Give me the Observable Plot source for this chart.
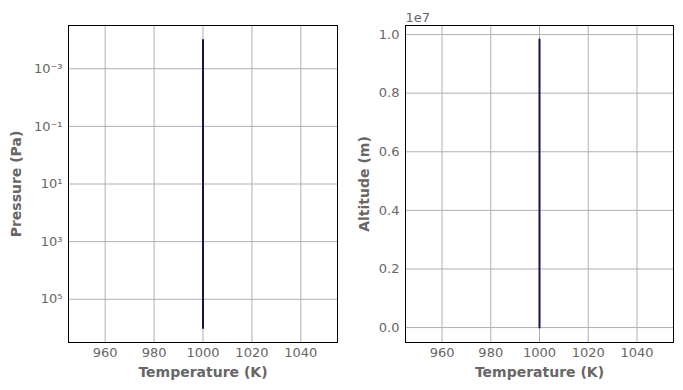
<!DOCTYPE html>
<html><head><meta charset="utf-8">
<script src="https://cdn.jsdelivr.net/npm/d3@7"></script>
<script src="https://cdn.jsdelivr.net/npm/@observablehq/plot@0.6"></script>
<style>
body{margin:0;background:#fff;}
#wrap{display:flex;width:683px;height:390px;font-family:"DejaVu Sans",sans-serif;}
svg{font-family:"DejaVu Sans",sans-serif;}
</style></head>
<body><div id="wrap"></div>
<script>
const temperature = [1000, 1000];
const pressure = [1e-4, 1e6];
const altitude = [9.83e6, 0];
const tempTicks = [960, 980, 1000, 1020, 1040];
const pressureTicks = [1e-3, 1e-1, 1e1, 1e3, 1e5];
const altitudeTicks = [0, 2e6, 4e6, 6e6, 8e6, 10e6];

const sup = {"-":"⁻","0":"⁰","1":"¹","2":"²","3":"³","4":"⁴","5":"⁵","6":"⁶","7":"⁷","8":"⁸","9":"⁹"};
const fmtPow = v => "10" + String(Math.round(Math.log10(v))).split("").map(c => sup[c]).join("");

const grid = "#b0b0b0", tickCol = "#666", lineCol = "#1c1044";
const TS = 13, LS = 14;
const profileP = temperature.map((t,i) => ({t, p: pressure[i]}));
const profileA = temperature.map((t,i) => ({t, a: altitude[i]}));

const left = Plot.plot({
  width: 345, height: 390,
  marginLeft: 68, marginRight: 8, marginTop: 25, marginBottom: 48,
  style: {fontFamily: "DejaVu Sans", fontSize: "13px", background: "white"},
  x: {domain: [945, 1055]},
  y: {type: "log", domain: [10**-4.5, 10**6.5], reverse: true},
  marks: [
    Plot.gridX(tempTicks, {stroke: grid, strokeOpacity: 1}),
    Plot.gridY(pressureTicks, {stroke: grid, strokeOpacity: 1}),
    Plot.axisX(tempTicks, {tickSize: 0, tickPadding: 5, fill: tickCol, fontSize: TS, label: null, tickFormat: d3.format("d")}),
    Plot.axisY(pressureTicks, {tickSize: 0, tickPadding: 6, fill: tickCol, fontSize: TS, label: null, tickFormat: fmtPow}),
    Plot.lineY(profileP, {x: "t", y: "p", stroke: lineCol, strokeWidth: 2}),
    Plot.frame({stroke: "black", strokeWidth: 1}),
    Plot.text(["Temperature (K)"], {frameAnchor: "bottom", dy: 34, textAnchor: "middle", fill: tickCol, fontWeight: "bold", fontSize: LS}),
    Plot.text(["Pressure (Pa)"], {frameAnchor: "left", dx: -52, rotate: -90, textAnchor: "middle", fill: tickCol, fontWeight: "bold", fontSize: LS})
  ]
});

const right = Plot.plot({
  width: 338, height: 390,
  marginLeft: 60, marginRight: 10, marginTop: 25, marginBottom: 48,
  style: {fontFamily: "DejaVu Sans", fontSize: "13px", background: "white"},
  x: {domain: [945, 1055]},
  y: {domain: [-0.051e7, 1.031e7]},
  marks: [
    Plot.gridX(tempTicks, {stroke: grid, strokeOpacity: 1}),
    Plot.gridY(altitudeTicks, {stroke: grid, strokeOpacity: 1}),
    Plot.axisX(tempTicks, {tickSize: 0, tickPadding: 5, fill: tickCol, fontSize: TS, label: null, tickFormat: d3.format("d")}),
    Plot.axisY(altitudeTicks, {tickSize: 0, tickPadding: 6, fill: tickCol, fontSize: TS, label: null, tickFormat: v => (v/1e7).toFixed(1)}),
    Plot.lineY(profileA, {x: "t", y: "a", stroke: lineCol, strokeWidth: 2}),
    Plot.frame({stroke: "black", strokeWidth: 1}),
    Plot.text(["1e7"], {frameAnchor: "top-left", dy: -13, textAnchor: "start", fill: tickCol, fontSize: TS}),
    Plot.text(["Temperature (K)"], {frameAnchor: "bottom", dy: 34, textAnchor: "middle", fill: tickCol, fontWeight: "bold", fontSize: LS}),
    Plot.text(["Altitude (m)"], {frameAnchor: "left", dx: -41, rotate: -90, textAnchor: "middle", fill: tickCol, fontWeight: "bold", fontSize: LS})
  ]
});

document.getElementById("wrap").append(left, right);
</script></body></html>
